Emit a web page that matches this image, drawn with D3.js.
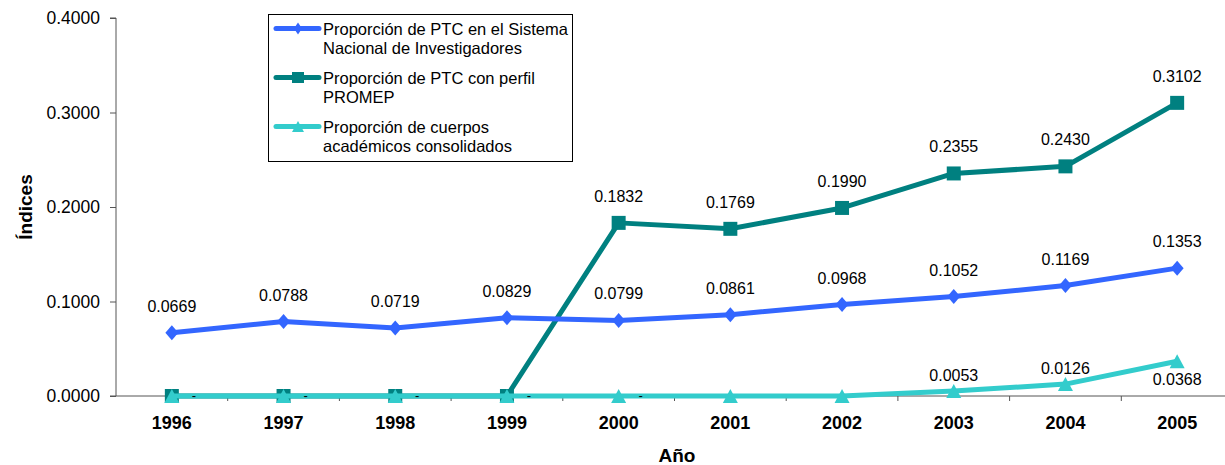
<!DOCTYPE html>
<html>
<head>
<meta charset="utf-8">
<script src="https://cdn.jsdelivr.net/npm/d3@7"></script>
<style>
  html, body { margin: 0; padding: 0; background: #fff; }
  svg { display: block; font-family: "Liberation Sans", Arial, sans-serif; }
</style>
</head>
<body>
<svg id="chart" width="1225" height="465"></svg>
<script>
// Years on the category axis
const years = ["1996","1997","1998","1999","2000","2001","2002","2003","2004","2005"];

// Share of full-time professors (PTC) in the national researchers system
const sniValues = [0.0669, 0.0788, 0.0719, 0.0829, 0.0799, 0.0861, 0.0968, 0.1052, 0.1169, 0.1353];

// Share of PTC with PROMEP profile
const promepValues = [0, 0, 0, 0, 0.1832, 0.1769, 0.1990, 0.2355, 0.2430, 0.3102];
const promepLabels = ["", "", "", "", "0.1832", "0.1769", "0.1990", "0.2355", "0.2430", "0.3102"];

// Share of consolidated academic bodies
const cuerposValues = [0, 0, 0, 0, 0, 0, 0, 0.0053, 0.0126, 0.0368];
const cuerposLabels = ["-", "-", "-", "-", "-", "", "", "0.0053", "0.0126", "0.0368"];

const yTicks = [0, 0.1, 0.2, 0.3, 0.4];

const seriesNames = [
  ["Proporción de PTC en el Sistema", "Nacional de Investigadores"],
  ["Proporción de PTC con perfil", "PROMEP"],
  ["Proporción de cuerpos", "académicos consolidados"]
];

const svg = d3.select("#chart");
const plotLeft = 116, plotTop = 18, plotBottom = 396;
const bandW = 111.7;

const x = d3.scaleBand().domain(years).range([plotLeft, plotLeft + bandW * years.length]);
const y = d3.scaleLinear().domain([0, 0.4]).range([plotBottom, plotTop]);
const cx = d => x(d) + x.bandwidth() / 2;

const axisColor = "#555";

// Y axis
const yAxis = svg.append("g")
  .attr("transform", `translate(${plotLeft},0)`)
  .call(d3.axisLeft(y).tickValues(yTicks).tickFormat(d3.format(".4f")).tickSize(6).tickPadding(10));
yAxis.select(".domain").attr("stroke", axisColor).attr("d", `M-6,${plotTop}H0V${plotBottom}H-6`);
yAxis.selectAll(".tick line").attr("stroke", axisColor);
yAxis.selectAll(".tick text").attr("font-size", 17.5).attr("fill", "#000")
  .attr("font-family", "Liberation Sans, Arial, sans-serif");

// X axis (ticks at category boundaries)
const xg = svg.append("g").attr("transform", `translate(0,${plotBottom})`);
xg.append("line").attr("x1", plotLeft).attr("x2", x.range()[1]).attr("stroke", axisColor);
xg.selectAll("line.tk").data(years).enter().append("line")
  .attr("class", "tk")
  .attr("x1", d => x(d) + x.bandwidth()).attr("x2", d => x(d) + x.bandwidth())
  .attr("y1", 0).attr("y2", 5).attr("stroke", axisColor);
xg.selectAll("text").data(years).enter().append("text")
  .attr("x", d => cx(d)).attr("y", 33)
  .attr("text-anchor", "middle").attr("font-size", 18).attr("font-weight", "bold")
  .text(d => d);

// Axis titles
svg.append("text").attr("x", 677).attr("y", 462).attr("text-anchor", "middle")
  .attr("font-size", 19).attr("font-weight", "bold").text("Año");
svg.append("text").attr("transform", `translate(32,207) rotate(-90)`).attr("text-anchor", "middle")
  .attr("font-size", 19).attr("font-weight", "bold").text("Índices");

const colors = ["#3366FF", "#008080", "#33CCCC"];
const line = d3.line().x((d, i) => cx(years[i])).y(d => y(d));

// Marker shapes given by half-width / half-height
const diamondPath = (w, h) => `M0,${-h}L${w},0L0,${h}L${-w},0Z`;
const squarePath = (w, h) => `M${-w},${-h}H${w}V${h}H${-w}Z`;
const trianglePath = (w, h) => `M0,${-h}L${w},${h}H${-w}Z`;
const markers = [diamondPath(6.5, 7.5), squarePath(7, 7), trianglePath(7.5, 7)];
const legendMarkers = [diamondPath(4, 6), squarePath(6, 5.5), trianglePath(6, 5.5)];

function drawSeries(values, k) {
  svg.append("path").datum(values).attr("d", line)
    .attr("fill", "none").attr("stroke", colors[k]).attr("stroke-width", 5)
    .attr("stroke-linejoin", "round");
  svg.append("g").selectAll("path").data(values).enter().append("path")
    .attr("d", markers[k])
    .attr("transform", (d, i) => `translate(${cx(years[i])},${y(d)})`)
    .attr("fill", colors[k]);
}

drawSeries(promepValues, 1);
drawSeries(sniValues, 0);
drawSeries(cuerposValues, 2);

// Value labels
const labelG = svg.append("g").attr("font-size", 16).attr("fill", "#000").attr("text-anchor", "middle");
sniValues.forEach((v, i) => {
  labelG.append("text").attr("x", cx(years[i])).attr("y", y(v) - 21).text(d3.format(".4f")(v));
});
promepValues.forEach((v, i) => {
  if (!promepLabels[i]) return;
  labelG.append("text").attr("x", cx(years[i])).attr("y", y(v) - 21).text(promepLabels[i]);
});
cuerposValues.forEach((v, i) => {
  const t = cuerposLabels[i];
  if (!t) return;
  if (t === "-") {
    labelG.append("text").attr("x", cx(years[i]) + 22).attr("y", y(v) + 4).attr("font-size", 13).text(t);
  } else if (i === years.length - 1) {
    labelG.append("text").attr("x", cx(years[i])).attr("y", y(v) + 24).text(t);
  } else {
    labelG.append("text").attr("x", cx(years[i])).attr("y", y(v) - 10).text(t);
  }
});

// Legend
const lg = svg.append("g");
lg.append("rect").attr("x", 268.5).attr("y", 14.5).attr("width", 304).attr("height", 147)
  .attr("fill", "#fff").attr("stroke", "#000").attr("stroke-width", 1);
seriesNames.forEach((lines, i) => {
  const yy = 28.5 + i * 49;
  lg.append("line").attr("x1", 276).attr("x2", 319).attr("y1", yy).attr("y2", yy)
    .attr("stroke", colors[i]).attr("stroke-width", 5).attr("stroke-linecap", "round");
  lg.append("path").attr("d", legendMarkers[i])
    .attr("transform", `translate(298,${yy})`).attr("fill", colors[i]);
  lines.forEach((t, j) => {
    lg.append("text").attr("x", 323).attr("y", yy + 6 + j * 19).attr("font-size", 16.5).text(t);
  });
});
</script>
</body>
</html>
